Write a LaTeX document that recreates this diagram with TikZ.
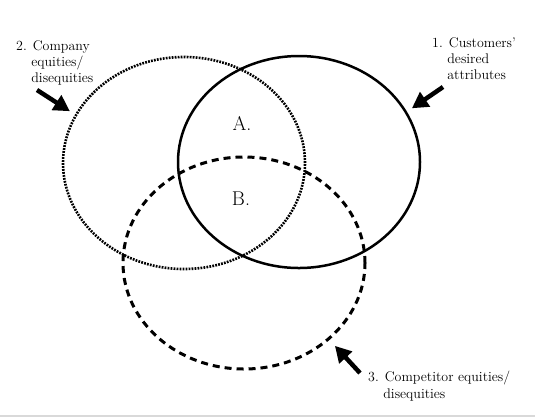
\documentclass[tikz,border=0pt]{standalone}
\usetikzlibrary{shapes.geometric,arrows.meta}

\begin{document}
\begin{tikzpicture}[x=1bp, y=-1bp,
	venn/.style={ellipse, minimum width=242bp, minimum height=212bp, inner sep=0pt},
	lbl/.style={anchor=north west, inner sep=0pt, align=left, font=\fontsize{14}{16.5}\selectfont},
	region/.style={inner sep=0pt, font=\fontsize{20}{24}\selectfont},
	fat/.style={line width=4.5bp, -{Triangle[length=16bp, width=17bp]}}]
		%%%%% START %%%%%
		
		\useasboundingbox (0,0) rectangle (535,417);
		\draw[black!15, line width=1.5bp] (0,416) -- (535,416);
		
		% the three sets
		\node[venn, draw, line width=2.6bp, dash pattern=on 1.8bp off 1.2bp] (comp) at (184,163) {};
		\node[venn, draw, line width=3bp, dash pattern=on 7bp off 5bp] (rival) at (244,263) {};
		\node[venn, draw, line width=2.5bp] (cust) at (299,162) {};
		
		\node[region] (a) at (242,123) {A.};
		\node[region] (b) at (241,199) {B.};
		
		% labels
		\node[lbl] (custlbl) at (432,37) {1. Customers'\\\phantom{1.\ }desired\\\phantom{1.\ }attributes};
		\node[lbl] (complbl) at (16,40) {2. Company\\\phantom{2.\ }equities/\\\phantom{2.\ }disequities};
		\node[lbl] (rivallbl) at (368,371) {3. Competitor equities/\\\phantom{3.\ }disequities};
		
		% arrows
		\coordinate (t1) at (443,87);
		\coordinate (t2) at (37,90);
		\coordinate (t3) at (360,373);
		\draw[fat, shorten >=6bp] (t1) -- (cust.25);
		\draw[fat, shorten >=6bp] (t2) -- (comp.156);
		\draw[fat, shorten >=8bp] (t3) -- (rival.-42);
		
		%%%%% END %%%%%
\end{tikzpicture}
\end{document}
